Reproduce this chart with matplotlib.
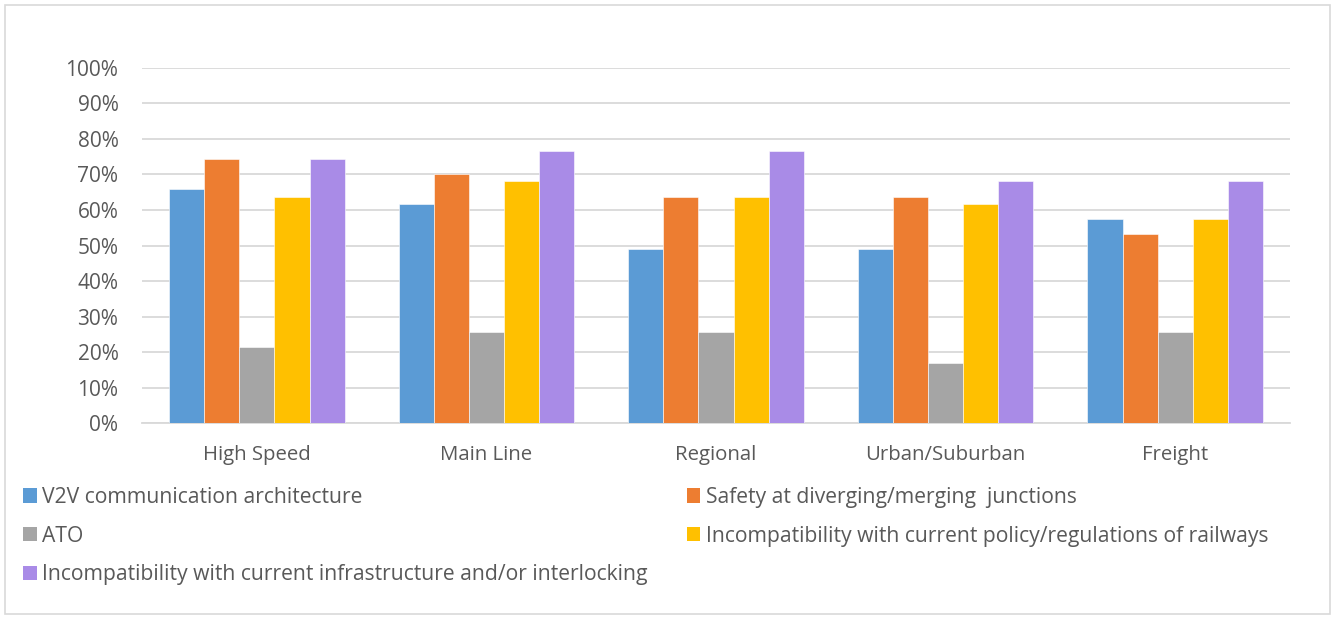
import numpy as np
import matplotlib
matplotlib.use('Agg')
import matplotlib.pyplot as plt
from matplotlib.patches import Rectangle, Patch
from matplotlib.ticker import PercentFormatter

plt.rcParams['font.family'] = ['Open Sans', 'DejaVu Sans']

categories = ['High Speed', 'Main Line', 'Regional', 'Urban/Suburban', 'Freight']
series_names = ['V2V communication architecture',
                'Safety at diverging/merging  junctions',
                'ATO',
                'Incompatibility with current policy/regulations of railways',
                'Incompatibility with current infrastructure and/or interlocking']
v2v = [66.0, 61.7, 48.9, 48.9, 57.4]
safety = [74.5, 70.2, 63.8, 63.8, 53.2]
ato = [21.3, 25.5, 25.5, 17.0, 25.5]
policy = [63.8, 68.1, 63.8, 61.7, 57.4]
infra = [74.5, 76.6, 76.6, 68.1, 68.1]
colors = ['#5B9BD5', '#ED7D31', '#A5A5A5', '#FFC000', '#A98BE7']

values = [v2v, safety, ato, policy, infra]
text_col = '#595959'
grid_col = '#D9D9D9'

fig = plt.figure(figsize=(13.35, 6.18), dpi=100)
ax = fig.add_axes([0.1064, 0.3155, 0.8599, 0.5745])

x = np.arange(len(categories))
w = 0.153
for i, (vals, c) in enumerate(zip(values, colors)):
    ax.bar(x + (i - 2) * w, np.array(vals) / 100, width=w, color=c,
           edgecolor='white', linewidth=0.4, zorder=3)

ax.set_xlim(-0.5, len(categories) - 0.5)
ax.set_ylim(0, 1)
ax.set_yticks(np.linspace(0, 1, 11))
ax.yaxis.set_major_formatter(PercentFormatter(1.0, decimals=0))
ax.set_xticks(x)
ax.set_xticklabels(categories)
ax.grid(axis='y', color=grid_col, linewidth=1.3, zorder=0)
for s in ['top', 'right', 'left']:
    ax.spines[s].set_visible(False)
ax.spines['bottom'].set_color(grid_col)
ax.spines['bottom'].set_linewidth(1.3)
ax.tick_params(axis='both', length=0, labelcolor=text_col)
ax.tick_params(axis='y', pad=17, labelsize=15)
ax.tick_params(axis='x', pad=16, labelsize=14.7)

handles = [Patch(facecolor=c, edgecolor='none') for c in colors]
order = [0, 2, 4, 1, 3]
fig.legend([handles[i] for i in order], [series_names[i] for i in order],
           ncol=2, loc='upper left', bbox_to_anchor=(0.0172, 0.212),
           frameon=False, labelcolor=text_col,
           prop={'family': 'Open Sans', 'size': 15.2},
           handlelength=0.66, handleheight=0.66, handletextpad=0.24,
           labelspacing=0.84, columnspacing=1.85, borderpad=0, borderaxespad=0)

fig.patches.append(Rectangle((0.004, 0.006), 0.992, 0.986, transform=fig.transFigure,
                             fill=False, edgecolor=grid_col, linewidth=1.2))

fig.savefig('out.png', dpi=100)
